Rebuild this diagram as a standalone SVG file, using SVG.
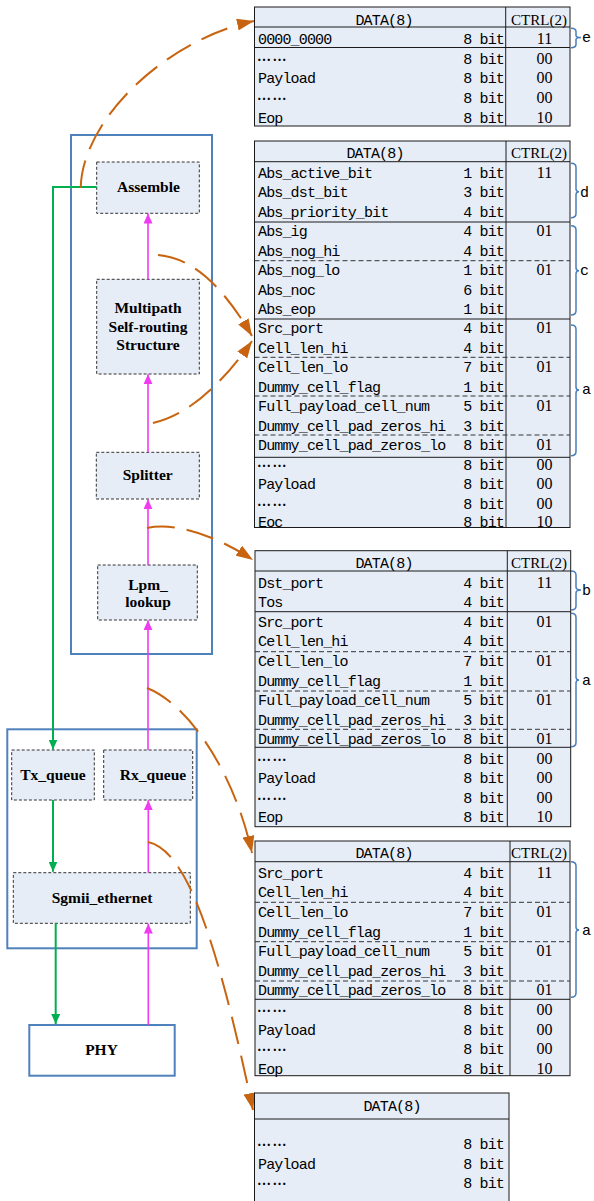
<svg xmlns="http://www.w3.org/2000/svg" width="594" height="1201" viewBox="0 0 594 1201">
  <defs>
    <style>
      .frame{fill:#E7EDF7;stroke:#1a1a1a;stroke-width:1}
      .rule{stroke:#1a1a1a;stroke-width:1;fill:none}
      .dash{stroke:#333;stroke-width:1;stroke-dasharray:5 3;fill:none}
      .f{font-family:"Liberation Mono",monospace;font-size:15px;letter-spacing:-0.85px;fill:#000}
      .e{text-anchor:end}
      .hd{font-family:"Liberation Mono",monospace;font-size:15px;letter-spacing:-0.85px;text-anchor:middle}
      .hc{font-family:"Liberation Serif",serif;font-size:15px;text-anchor:middle}
      .v{font-family:"Liberation Serif",serif;font-size:16px;text-anchor:middle}
      .dots{font-family:"Liberation Serif",serif;font-size:14px;font-weight:bold;letter-spacing:1.5px}
      .br{fill:none;stroke:#4A7EBB;stroke-width:1.5}
      .lbl{font-family:"Liberation Mono",monospace;font-size:15px}
      .node{fill:#E7EDF7;stroke:#333;stroke-width:1;stroke-dasharray:3 2}
      .outer{fill:none;stroke:#4F81BD;stroke-width:2}
      .nt{font-family:"Liberation Serif",serif;font-size:15.5px;font-weight:bold;text-anchor:middle}
      .g{fill:none;stroke:#00B050;stroke-width:2}
      .m{fill:none;stroke:#F03CF0;stroke-width:1.6}
      .o{fill:none;stroke:#C8640F;stroke-width:2;stroke-dasharray:28 12}
    </style>
    <marker id="ag" markerUnits="userSpaceOnUse" markerWidth="10" markerHeight="9" refX="10" refY="4.5" orient="auto">
      <path d="M0,0 L10,4.5 L0,9 z" fill="#00B050"/>
    </marker>
    <marker id="am" markerUnits="userSpaceOnUse" markerWidth="10" markerHeight="9" refX="10" refY="4.5" orient="auto">
      <path d="M0,0 L10,4.5 L0,9 z" fill="#F03CF0"/>
    </marker>
    <marker id="ao" markerUnits="userSpaceOnUse" markerWidth="17" markerHeight="12" refX="17" refY="6" orient="auto">
      <path d="M0,0 L17,6 L0,12 z" fill="#C8640F"/>
    </marker>
  </defs>

  <rect width="594" height="1201" fill="#fff"/>

  <!-- left-hand processing blocks -->
  <rect id="fabric-box" class="outer" x="71" y="135" width="141" height="519"/>
  <rect id="mac-box" class="outer" x="7.3" y="729.3" width="189.4" height="219"/>

  <g id="assemble">
    <rect class="node" x="96.7" y="162" width="102.6" height="51.3"/>
    <text class="nt" x="148.5" y="192">Assemble</text>
  </g>
  <g id="multipath">
    <rect class="node" x="96.7" y="279.3" width="102.6" height="94.7"/>
    <text class="nt" x="148" y="312.7">Multipath</text>
    <text class="nt" x="148" y="331.5">Self-routing</text>
    <text class="nt" x="148" y="350">Structure</text>
  </g>
  <g id="splitter">
    <rect class="node" x="96.3" y="452.3" width="103" height="46.7"/>
    <text class="nt" x="147.7" y="480">Splitter</text>
  </g>
  <g id="lpm-lookup">
    <rect class="node" x="97.7" y="565" width="99.6" height="55"/>
    <text class="nt" x="148" y="590">Lpm_</text>
    <text class="nt" x="148" y="606.7">lookup</text>
  </g>
  <g id="tx-queue">
    <rect class="node" x="11.7" y="750" width="82.6" height="50"/>
    <text class="nt" x="53" y="780">Tx_queue</text>
  </g>
  <g id="rx-queue">
    <rect class="node" x="103.7" y="750" width="89" height="50"/>
    <text class="nt" x="153" y="780">Rx_queue</text>
  </g>
  <g id="sgmii">
    <rect class="node" x="13.3" y="872.7" width="177" height="50.6"/>
    <text class="nt" x="102" y="902.7">Sgmii_ethernet</text>
  </g>
  <g id="phy">
    <rect x="29.3" y="1025" width="145.4" height="50.7" fill="#fff" stroke="#4F81BD" stroke-width="2"/>
    <text class="nt" x="101.5" y="1055">PHY</text>
  </g>

  <!-- data-path connectors -->
  <g id="connectors">
    <path class="g" d="M96.7,187 H53 V749.5" marker-end="url(#ag)"/>
    <path class="g" d="M53,800 V871.7" marker-end="url(#ag)"/>
    <path class="g" d="M55.7,923.3 V1024" marker-end="url(#ag)"/>
    <path class="m" d="M148.3,1025 V923.6" marker-end="url(#am)"/>
    <path class="m" d="M148.3,872.7 V800.2" marker-end="url(#am)"/>
    <path class="m" d="M148,750 V620.2" marker-end="url(#am)"/>
    <path class="m" d="M148,565 V499.2" marker-end="url(#am)"/>
    <path class="m" d="M148,452.3 V374.2" marker-end="url(#am)"/>
    <path class="m" d="M148,279.3 V213.5" marker-end="url(#am)"/>

    <path class="o" d="M80.7,188 C82,120 165,40 254,21" marker-end="url(#ao)"/>
    <path class="o" d="M158,255 C195,258 225,290 252,336" marker-end="url(#ao)"/>
    <path class="o" d="M153,423 C190,415 225,380 252,341" marker-end="url(#ao)"/>
    <path class="o" d="M147,528 C175,522 215,535 253,560" marker-end="url(#ao)"/>
    <path class="o" d="M147,688 C190,705 235,775 252,853" marker-end="url(#ao)"/>
    <path class="o" d="M148,842 C185,850 215,930 253,1110" marker-end="url(#ao)"/>
  </g>

  <!-- frame e: start of packet -->
  <g id="table-e">
    <rect class="frame" x="254.5" y="7" width="315.5" height="119"/>
    <path class="rule" d="M505.7,7 V126 M254.5,27 H570 M254.5,47.5 H570"/>
    <text class="hd" x="384" y="24.5">DATA(8)</text>
    <text class="hc" x="539" y="24.5">CTRL(2)</text>
    <text class="f" x="258" y="44">0000_0000</text>
    <text class="dots" x="257" y="60.7">……</text>
    <text class="f" x="258" y="83.4">Payload</text>
    <text class="dots" x="257" y="100">……</text>
    <text class="f" x="258" y="122.7">Eop</text>
    <g class="f e">
      <text x="504" y="44">8 bit</text><text x="504" y="63.7">8 bit</text><text x="504" y="83.4">8 bit</text><text x="504" y="103">8 bit</text><text x="504" y="122.7">8 bit</text>
    </g>
    <g class="v">
      <text x="544.5" y="44">11</text><text x="544.5" y="63.7">00</text><text x="544.5" y="83.4">00</text><text x="544.5" y="103">00</text><text x="544.5" y="122.7">10</text>
    </g>
    <path class="br" d="M571,28.3 Q576,28.3 576,31.5 V35.5 Q576,37.5 581,37.5 Q576,37.5 576,39.5 V44.5 Q576,47.7 571,47.7"/>
    <text class="lbl" x="582" y="42">e</text>
  </g>

  <!-- frame after multipath structure -->
  <g id="table-d">
    <rect class="frame" x="254.5" y="141" width="315.5" height="386.5"/>
    <path class="rule" d="M506,141 V527.5 M254.5,161.7 H570 M254.5,222 H570 M254.5,319 H570 M254.5,457.3 H570"/>
    <path class="dash" d="M254.5,260.7 H570 M254.5,357.3 H570 M254.5,396 H570 M254.5,435 H570"/>
    <text class="hd" x="375" y="158">DATA(8)</text>
    <text class="hc" x="539" y="158">CTRL(2)</text>
    <g class="f">
      <text x="258" y="177.7">Abs_active_bit</text>
      <text x="258" y="197.2">Abs_dst_bit</text>
      <text x="258" y="216.6">Abs_priority_bit</text>
      <text x="258" y="236.1">Abs_ig</text>
      <text x="258" y="255.5">Abs_nog_hi</text>
      <text x="258" y="275">Abs_nog_lo</text>
      <text x="258" y="294.5">Abs_noc</text>
      <text x="258" y="313.9">Abs_eop</text>
      <text x="258" y="333.4">Src_port</text>
      <text x="258" y="352.8">Cell_len_hi</text>
      <text x="258" y="372.3">Cell_len_lo</text>
      <text x="258" y="391.8">Dummy_cell_flag</text>
      <text x="258" y="411.2">Full_payload_cell_num</text>
      <text x="258" y="430.7">Dummy_cell_pad_zeros_hi</text>
      <text x="258" y="450.1">Dummy_cell_pad_zeros_lo</text>
      <text x="258" y="489.1">Payload</text>
      <text x="258" y="526.5">Eoc</text>
    </g>
    <text class="dots" x="257" y="466.6">……</text>
    <text class="dots" x="257" y="505.5">……</text>
    <g class="f e">
      <text x="504" y="177.7">1 bit</text><text x="504" y="197.2">3 bit</text><text x="504" y="216.6">4 bit</text>
      <text x="504" y="236.1">4 bit</text><text x="504" y="255.5">4 bit</text><text x="504" y="275">1 bit</text>
      <text x="504" y="294.5">6 bit</text><text x="504" y="313.9">1 bit</text><text x="504" y="333.4">4 bit</text>
      <text x="504" y="352.8">4 bit</text><text x="504" y="372.3">7 bit</text><text x="504" y="391.8">1 bit</text>
      <text x="504" y="411.2">5 bit</text><text x="504" y="430.7">3 bit</text><text x="504" y="450.1">8 bit</text>
      <text x="504" y="469.6">8 bit</text><text x="504" y="489.1">8 bit</text><text x="504" y="508.5">8 bit</text>
      <text x="504" y="526.5">8 bit</text>
    </g>
    <g class="v">
      <text x="544.5" y="177.7">11</text><text x="544.5" y="236.1">01</text><text x="544.5" y="275">01</text>
      <text x="544.5" y="333.4">01</text><text x="544.5" y="372.3">01</text><text x="544.5" y="411.2">01</text>
      <text x="544.5" y="450.1">01</text><text x="544.5" y="469.6">00</text><text x="544.5" y="489.1">00</text>
      <text x="544.5" y="508.5">00</text><text x="544.5" y="526.5">10</text>
    </g>
    <path class="br" d="M571,163.3 Q576,163.3 576,167.5 V188.7 Q576,191.7 579,191.7 Q576,191.7 576,194.7 V213.5 Q576,217.7 571,217.7"/>
    <text class="lbl" x="580" y="196.5">d</text>
    <path class="br" d="M571,225.7 Q576,225.7 576,230 V267.7 Q576,270.7 579,270.7 Q576,270.7 576,273.7 V310.8 Q576,315 571,315"/>
    <text class="lbl" x="580" y="275">c</text>
    <path class="br" d="M571,325 Q576,325 576,329.2 V387 Q576,390 579,390 Q576,390 576,393 V451.5 Q576,455.7 571,455.7"/>
    <text class="lbl" x="582" y="393.5">a</text>
  </g>

  <!-- frame after lookup -->
  <g id="table-b">
    <rect class="frame" x="255" y="550.7" width="315.7" height="276"/>
    <path class="rule" d="M507.3,550.7 V826.7 M255,571 H570.7 M255,611.7 H570.7 M255,747.3 H570.7"/>
    <path class="dash" d="M255,651.7 H570.7 M255,691 H570.7 M255,729.3 H570.7"/>
    <text class="hd" x="384" y="568.3">DATA(8)</text>
    <text class="hc" x="539" y="568.3">CTRL(2)</text>
    <g class="f">
      <text x="258" y="587.7">Dst_port</text>
      <text x="258" y="607.3">Tos</text>
      <text x="258" y="626.8">Src_port</text>
      <text x="258" y="646.4">Cell_len_hi</text>
      <text x="258" y="665.9">Cell_len_lo</text>
      <text x="258" y="685.5">Dummy_cell_flag</text>
      <text x="258" y="705">Full_payload_cell_num</text>
      <text x="258" y="724.6">Dummy_cell_pad_zeros_hi</text>
      <text x="258" y="744.1">Dummy_cell_pad_zeros_lo</text>
      <text x="258" y="783.2">Payload</text>
      <text x="258" y="822.3">Eop</text>
    </g>
    <text class="dots" x="257" y="760.7">……</text>
    <text class="dots" x="257" y="799.8">……</text>
    <g class="f e">
      <text x="504" y="587.7">4 bit</text><text x="504" y="607.3">4 bit</text><text x="504" y="626.8">4 bit</text>
      <text x="504" y="646.4">4 bit</text><text x="504" y="665.9">7 bit</text><text x="504" y="685.5">1 bit</text>
      <text x="504" y="705">5 bit</text><text x="504" y="724.6">3 bit</text><text x="504" y="744.1">8 bit</text>
      <text x="504" y="763.7">8 bit</text><text x="504" y="783.2">8 bit</text><text x="504" y="802.8">8 bit</text>
      <text x="504" y="822.3">8 bit</text>
    </g>
    <g class="v">
      <text x="544.5" y="587.7">11</text><text x="544.5" y="626.8">01</text><text x="544.5" y="665.9">01</text>
      <text x="544.5" y="705">01</text><text x="544.5" y="744.1">01</text><text x="544.5" y="763.7">00</text>
      <text x="544.5" y="783.2">00</text><text x="544.5" y="802.8">00</text><text x="544.5" y="822.3">10</text>
    </g>
    <path class="br" d="M571,571 Q576,571 576,575 V587 Q576,590 581,590 Q576,590 576,593 V606 Q576,610 571,610"/>
    <text class="lbl" x="582" y="595">b</text>
    <path class="br" d="M571,613.3 Q576,613.3 576,617.5 V677 Q576,680 579,680 Q576,680 576,683 V742.5 Q576,746.7 571,746.7"/>
    <text class="lbl" x="582" y="685">a</text>
  </g>

  <!-- frame leaving the ethernet MAC -->
  <g id="table-a">
    <rect class="frame" x="255" y="841" width="315" height="234.7"/>
    <path class="rule" d="M510,841 V1075.7 M255,861.7 H570 M255,999.3 H570"/>
    <path class="dash" d="M255,902.3 H570 M255,941.7 H570 M255,981 H570"/>
    <text class="hd" x="384" y="858.3">DATA(8)</text>
    <text class="hc" x="539" y="858.3">CTRL(2)</text>
    <g class="f">
      <text x="258" y="877.7">Src_port</text>
      <text x="258" y="897.3">Cell_len_hi</text>
      <text x="258" y="916.9">Cell_len_lo</text>
      <text x="258" y="936.5">Dummy_cell_flag</text>
      <text x="258" y="956.1">Full_payload_cell_num</text>
      <text x="258" y="975.7">Dummy_cell_pad_zeros_hi</text>
      <text x="258" y="995.3">Dummy_cell_pad_zeros_lo</text>
      <text x="258" y="1034.5">Payload</text>
      <text x="258" y="1073.7">Eop</text>
    </g>
    <text class="dots" x="257" y="1011.9">……</text>
    <text class="dots" x="257" y="1051.1">……</text>
    <g class="f e">
      <text x="504" y="877.7">4 bit</text><text x="504" y="897.3">4 bit</text><text x="504" y="916.9">7 bit</text>
      <text x="504" y="936.5">1 bit</text><text x="504" y="956.1">5 bit</text><text x="504" y="975.7">3 bit</text>
      <text x="504" y="995.3">8 bit</text><text x="504" y="1014.9">8 bit</text><text x="504" y="1034.5">8 bit</text>
      <text x="504" y="1054.1">8 bit</text><text x="504" y="1073.7">8 bit</text>
    </g>
    <g class="v">
      <text x="544.5" y="877.7">11</text><text x="544.5" y="916.9">01</text><text x="544.5" y="956.1">01</text>
      <text x="544.5" y="995.3">01</text><text x="544.5" y="1014.9">00</text><text x="544.5" y="1034.5">00</text>
      <text x="544.5" y="1054.1">00</text><text x="544.5" y="1073.7">10</text>
    </g>
    <path class="br" d="M571,861.7 Q576,861.7 576,866 V927 Q576,930 579,930 Q576,930 576,933 V993 Q576,997.3 571,997.3"/>
    <text class="lbl" x="582" y="935">a</text>
  </g>

  <!-- raw frame from the PHY -->
  <g id="table-raw">
    <rect class="frame" x="254.5" y="1093" width="254.5" height="120"/>
    <path class="rule" d="M254.5,1119 H509"/>
    <text class="hd" x="392" y="1111">DATA(8)</text>
    <text class="dots" x="257" y="1146.3">……</text>
    <text class="f" x="258" y="1169">Payload</text>
    <text class="dots" x="257" y="1185.3">……</text>
    <g class="f e">
      <text x="504" y="1149.3">8 bit</text><text x="504" y="1169">8 bit</text><text x="504" y="1188.3">8 bit</text>
    </g>
  </g>
</svg>
